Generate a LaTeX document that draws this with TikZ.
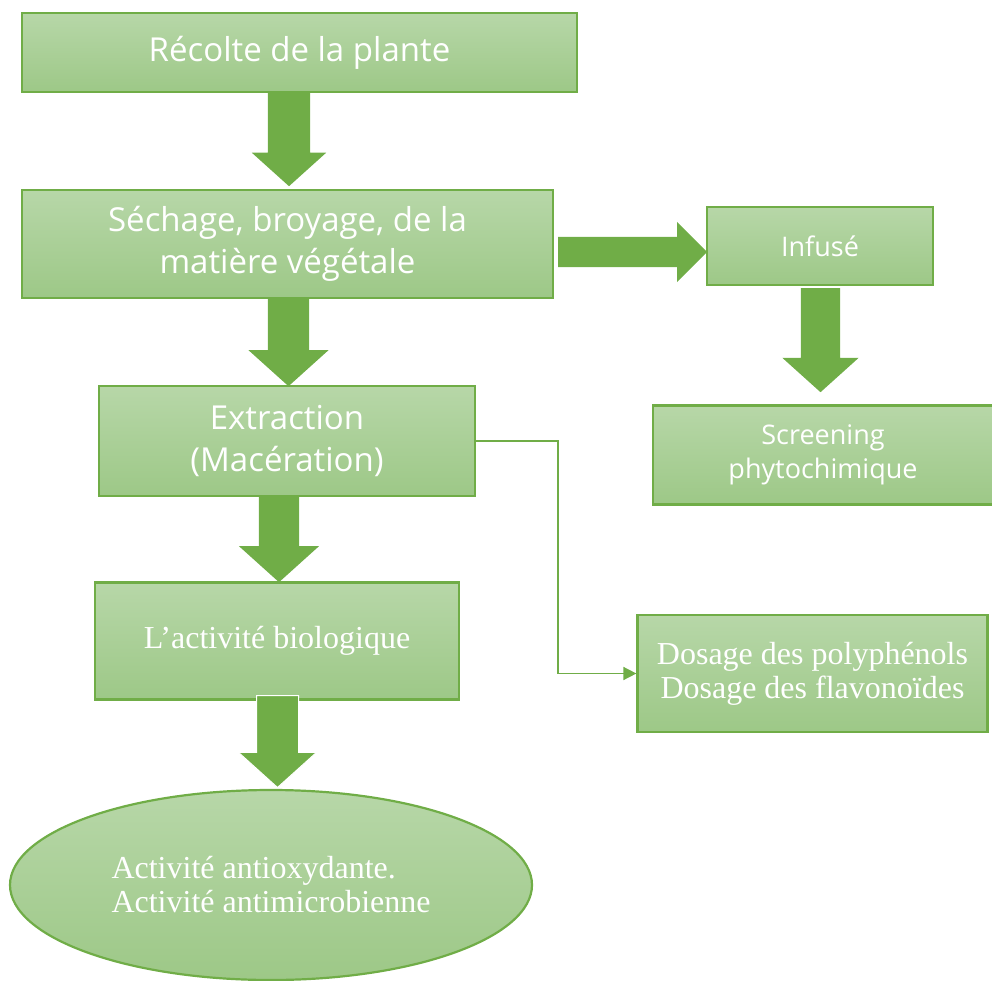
\documentclass[tikz,border=0pt]{standalone}
\usepackage{fontspec}
\setmainfont{Liberation Serif}
\newfontfamily\opensans{Open Sans}
\usepackage{tikz}
\usetikzlibrary{positioning}
\usetikzlibrary{shapes,shapes.geometric,arrows,arrows.meta,calc}
\usepackage{xcolor}
\definecolor{vertbord}{RGB}{112,173,71}
\definecolor{verthaut}{RGB}{183,215,168}
\definecolor{vertbas}{RGB}{157,200,135}

\begin{document}
\begin{tikzpicture}[x=1pt,y=-1pt]
            \tikzset{boite/.style={rectangle,draw=vertbord,line width=2.2pt,
                       top color=verthaut,bottom color=vertbas,text=white,
                       align=center,inner sep=0pt}}
            \tikzset{grande/.style={font=\opensans\fontsize{33}{42}\selectfont}}
            \tikzset{petite/.style={font=\opensans\fontsize{27}{34}\selectfont}}
            \tikzset{romain/.style={font=\fontsize{32}{34}\selectfont}}
            \tikzset{fleche/.style={single arrow,fill=vertbord,draw=none,anchor=tail,
                       inner xsep=0pt,single arrow tip angle=96}}
            \useasboundingbox (0,0) rectangle (992,981);
            % les etapes
            \node[boite,grande,minimum width=555pt,minimum height=79pt] (recolte) at (299.5,52.5) {R\'ecolte de la plante};
            \node[boite,grande,minimum width=531pt,minimum height=108pt] (sechage) at (287.5,244) {S\'echage, broyage, de la\\mati\`ere v\'eg\'etale};
            \node[boite,petite,minimum width=226pt,minimum height=78pt] (infuse) at (820,246) {Infus\'e};
            \node[boite,petite,minimum width=340pt,minimum height=99pt] (screening) at (823,455) {Screening\\phytochimique};
            \node[boite,grande,minimum width=376pt,minimum height=110pt] (extraction) at (287,441) {Extraction\\(Mac\'eration)};
            \node[boite,romain,minimum width=364pt,minimum height=117pt] (activite) at (277,641) {L’activit\'e biologique};
            \node[boite,romain,minimum width=350pt,minimum height=117pt] (dosage) at (812.5,673.5) {Dosage des polyph\'enols\\Dosage des flavono\"ides};
            \node[boite,romain,ellipse,align=left,minimum width=522pt,minimum height=190pt] (activites) at (271,885) {Activit\'e antioxydante.\\Activit\'e antimicrobienne};
            % grosses fleches
            \node[fleche,rotate=-90,minimum height=94pt,inner ysep=21pt,single arrow head extend=16pt] (f1) at (289,92) {};
            \node[fleche,minimum height=149pt,inner ysep=15pt,single arrow head extend=15pt,single arrow tip angle=90] (f2) at (558,252) {};
            \node[fleche,rotate=-90,minimum height=88pt,inner ysep=20.5pt,single arrow head extend=19.5pt] (f3) at (288.5,298) {};
            \node[fleche,rotate=-90,minimum height=104pt,inner ysep=19.5pt,single arrow head extend=18.5pt] (f4) at (820.5,288) {};
            \node[fleche,rotate=-90,minimum height=85pt,inner ysep=20pt,single arrow head extend=20pt] (f5) at (279,497) {};
            \node[fleche,rotate=-90,minimum height=92pt,inner ysep=20.5pt,single arrow head extend=18pt,draw=white,line width=1pt] (f6) at (277.5,695) {};
            % dosages
            \draw[vertbord,line width=1.5pt,-{Triangle[length=13pt,width=13pt]}] (extraction.east) -- ++(82,0) |- (dosage.west);
\end{tikzpicture}
\end{document}
